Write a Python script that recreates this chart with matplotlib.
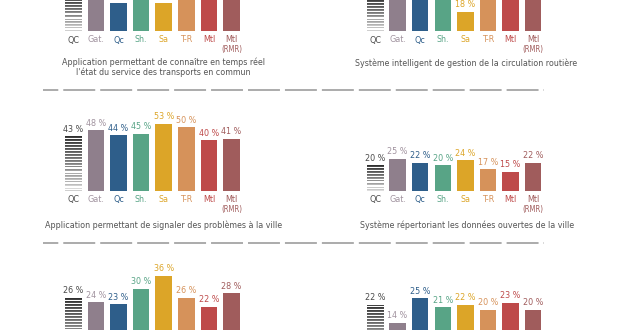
import numpy as np
import matplotlib
matplotlib.use("Agg")
import matplotlib.pyplot as plt
from matplotlib.lines import Line2D

plt.rcParams["font.family"] = ["DejaVu Sans"]
plt.rcParams["font.stretch"] = "condensed"
plt.rcParams["lines.scale_dashes"] = False

# ---- data -------------------------------------------------------------
categories = ["QC", "Gat.", "Qc", "Sh.", "Sa", "T-R", "Mtl", "Mtl"]
sub_labels = ["", "", "", "", "", "", "", "(RMR)"]

values_transport = [27, 30, 22, 29, 22, 28, 27, 29]
values_circulation = [32, 35, 33, 31, 18, 34, 33, 32]
values_signalement = [43, 48, 44, 45, 53, 50, 40, 41]
values_donnees = [20, 25, 22, 20, 24, 17, 15, 22]
values_row3_left = [26, 24, 23, 30, 36, 26, 22, 28]
values_row3_right = [22, 14, 25, 21, 22, 20, 23, 20]

title_transport = ("Application permettant de connaître en temps réel\n"
                   "l'état du service des transports en commun")
title_circulation = "Système intelligent de gestion de la circulation routière"
title_signalement = "Application permettant de signaler des problèmes à la ville"
title_donnees = "Système répertoriant les données ouvertes de la ville"

# ---- style ------------------------------------------------------------
bar_colors = ["#888888", "#8f7f8c", "#2e5e8a", "#58a486", "#dca528",
              "#d6925a", "#be4a4a", "#a05c5c"]
text_colors = ["#4a4a4a", "#a0929e", "#2e5e8a", "#58a486", "#dca528",
               "#d6925a", "#be4a4a", "#a05c5c"]
title_color = "#555555"

W, H = 620, 330
fig = plt.figure(figsize=(W / 100, H / 100), dpi=100)
fig.patch.set_facecolor("white")

STEP = 22.6          # px between bar centres
BAR_W = 16.5 / STEP  # bar width in data units
LABEL_FS = 6.4
TITLE_FS = 6.4


def stripe_image(n_rows):
    """Grey horizontal stripes, dark at the top and fading downwards."""
    rows = []
    for r in range(n_rows):
        t = r / max(n_rows - 1, 1)
        g = 0.25 + 0.62 * t + 0.06 * (((r * 7) % 3) - 1)
        white = (r % 3 == 2) or (t > 0.5 and r % 5 == 1)
        rows.append(1.0 if white else min(g, 0.92))
    return np.array(rows)[:, None] * np.ones((1, 4))


def panel(values, x0_px, base_px, scale):
    """Bars whose first centre is at x0_px, baseline at base_px (pixels from top)."""
    left = (x0_px - 0.5 * STEP) / W
    width = 8 * STEP / W
    height_px = 220
    ax = fig.add_axes([left, 1 - base_px / H, width, height_px / H])
    ax.set_xlim(-0.5, 7.5)
    ax.set_ylim(0, height_px / scale)
    ax.axis("off")
    x = np.arange(len(values))
    bars = ax.bar(x, values, width=BAR_W, color=bar_colors, linewidth=0)
    # striped fill for the province-wide bar
    qc = bars[0]
    qc.set_facecolor("white")
    n_rows = max(int(round(values[0] * scale)), 2)
    im = ax.imshow(stripe_image(n_rows), cmap="gray", vmin=0, vmax=1,
                   extent=(x[0] - BAR_W / 2, x[0] + BAR_W / 2, 0, values[0]),
                   aspect="auto", interpolation="nearest", zorder=3)
    im.set_clip_path(qc)
    ax.set_xlim(-0.5, 7.5)
    ax.set_ylim(0, height_px / scale)
    for i, v in enumerate(values):
        # labels that would fall outside the canvas are skipped
        if base_px - v * scale - 7 > 2:
            ax.annotate(f"{v} %", xy=(i, v), xytext=(0, 7), textcoords="offset pixels",
                        ha="center", va="center", fontsize=LABEL_FS,
                        color=text_colors[i], annotation_clip=False)
        if base_px + 9 < H - 3:
            ax.annotate(categories[i], xy=(i, 0), xytext=(0, -9),
                        textcoords="offset pixels", ha="center", va="center",
                        fontsize=LABEL_FS, color=text_colors[i],
                        annotation_clip=False)
        if sub_labels[i] and base_px + 18.5 < H - 3:
            ax.annotate(sub_labels[i], xy=(i, 0), xytext=(0, -18.5),
                        textcoords="offset pixels", ha="center", va="center",
                        fontsize=5.6, color=text_colors[i], annotation_clip=False)
    return ax


LEFT_X0, RIGHT_X0 = 73.3, 375.0

panel(values_transport, LEFT_X0, 31, 1.27)
panel(values_circulation, RIGHT_X0, 31, 1.06)
panel(values_signalement, LEFT_X0, 191, 1.27)
panel(values_donnees, RIGHT_X0, 191, 1.28)
panel(values_row3_left, LEFT_X0, 355.5, 2.22)
panel(values_row3_right, RIGHT_X0, 354.5, 2.25)


def ftext(px, py, s, **kw):
    fig.text(px / W, 1 - py / H, s, ha="center", va="center", color=title_color,
             fontsize=TITLE_FS, linespacing=1.05, **kw)


ftext(163, 67.5, title_transport)
ftext(466, 63, title_circulation)
ftext(164, 225.5, title_signalement)
ftext(467, 225.5, title_donnees)

# dashed separators between the rows of panels
for y in (90, 243):
    fig.add_artist(Line2D([43 / W, 544 / W], [1 - y / H, 1 - y / H],
                          color="#ababab", linewidth=1.4,
                          linestyle=(12, (23, 3.6)), dash_capstyle="butt",
                          transform=fig.transFigure))

fig.savefig("out.png", dpi=100, facecolor="white")
